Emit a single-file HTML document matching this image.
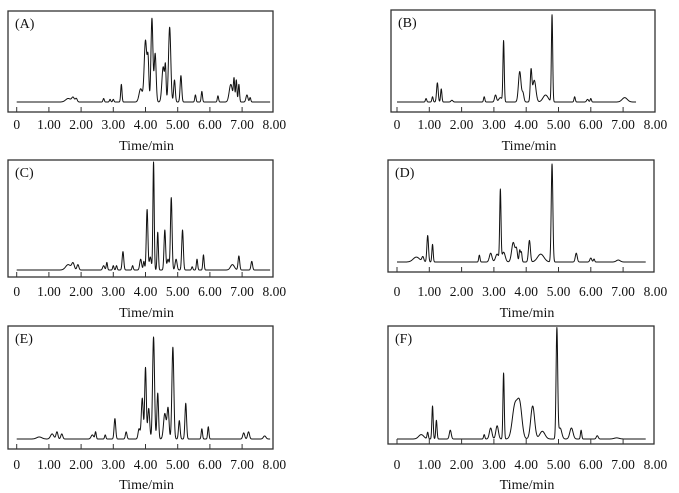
<!DOCTYPE html>
<html><head><meta charset="utf-8">
<style>
html,body{margin:0;padding:0;background:#fff;}
svg{display:block;font-family:"Liberation Serif",serif;}
</style></head>
<body>
<svg id="fig" width="679" height="493" viewBox="0 0 679 493"></svg>
<script>
// Peak data per panel: retention times (min), relative heights, widths (min)
const timesA=[1.6,1.75,1.85,2.7,2.9,3.0,3.25,3.85,4.0,4.08,4.2,4.3,4.55,4.62,4.75,4.9,5.1,5.55,5.75,6.25,6.65,6.75,6.82,6.9,7.15,7.25];
const heightsA=[0.04,0.05,0.04,0.04,0.03,0.03,0.2,0.15,0.7,0.45,0.95,0.55,0.4,0.35,0.85,0.25,0.3,0.08,0.12,0.07,0.2,0.25,0.25,0.2,0.08,0.05];
const widthsA=[0.08,0.04,0.03,0.02,0.02,0.02,0.02,0.05,0.04,0.025,0.03,0.03,0.04,0.02,0.035,0.025,0.025,0.02,0.02,0.02,0.05,0.02,0.02,0.02,0.03,0.02];
const timesB=[0.9,1.1,1.25,1.37,1.7,2.7,3.05,3.2,3.3,3.8,3.9,4.15,4.25,4.6,4.8,5.5,5.9,6.0,7.05];
const heightsB=[0.04,0.06,0.22,0.15,0.02,0.06,0.08,0.05,0.7,0.35,0.1,0.35,0.25,0.08,1.0,0.06,0.03,0.04,0.05];
const widthsB=[0.02,0.02,0.025,0.02,0.03,0.02,0.03,0.05,0.02,0.04,0.03,0.025,0.05,0.08,0.02,0.02,0.03,0.02,0.08];
const timesC=[1.6,1.75,1.9,2.7,2.8,3.0,3.1,3.3,3.6,3.85,3.95,4.05,4.15,4.25,4.38,4.6,4.7,4.8,4.95,5.15,5.45,5.6,5.8,6.7,6.9,7.3];
const heightsC=[0.05,0.06,0.05,0.04,0.07,0.04,0.04,0.17,0.04,0.1,0.08,0.56,0.12,1.0,0.35,0.37,0.1,0.67,0.1,0.37,0.03,0.1,0.14,0.05,0.13,0.08];
const widthsC=[0.08,0.04,0.03,0.03,0.02,0.02,0.02,0.025,0.02,0.03,0.02,0.025,0.03,0.02,0.02,0.025,0.03,0.025,0.03,0.025,0.02,0.02,0.02,0.06,0.025,0.025];
const timesD=[0.6,0.8,0.95,1.1,2.55,2.9,3.1,3.2,3.3,3.6,3.7,3.8,3.85,4.1,4.45,4.8,5.55,6.0,6.1,6.85];
const heightsD=[0.05,0.05,0.27,0.18,0.07,0.09,0.08,0.72,0.1,0.2,0.12,0.12,0.1,0.22,0.08,1.0,0.09,0.04,0.03,0.02];
const widthsD=[0.1,0.03,0.025,0.02,0.02,0.04,0.05,0.02,0.05,0.05,0.03,0.02,0.02,0.03,0.1,0.025,0.03,0.03,0.02,0.06];
const timesE=[0.7,1.1,1.25,1.4,2.35,2.45,2.75,3.05,3.4,3.8,3.9,4.0,4.1,4.25,4.38,4.6,4.7,4.85,5.05,5.25,5.75,5.95,7.05,7.2,7.7];
const heightsE=[0.02,0.05,0.07,0.05,0.04,0.07,0.04,0.2,0.07,0.1,0.4,0.7,0.3,1.0,0.45,0.25,0.3,0.9,0.18,0.35,0.1,0.12,0.06,0.07,0.03];
const widthsE=[0.08,0.05,0.03,0.03,0.04,0.02,0.02,0.025,0.025,0.03,0.03,0.025,0.03,0.03,0.025,0.04,0.03,0.03,0.025,0.025,0.02,0.02,0.03,0.03,0.04];
const timesF=[0.75,0.95,1.1,1.22,1.65,2.7,2.9,3.1,3.3,3.65,3.8,4.2,4.5,4.95,5.05,5.4,5.7,6.2,6.8];
const heightsF=[0.04,0.06,0.3,0.17,0.08,0.04,0.1,0.12,0.6,0.3,0.3,0.3,0.07,1.0,0.1,0.1,0.08,0.03,0.01];
const widthsF=[0.08,0.02,0.02,0.02,0.03,0.02,0.04,0.04,0.02,0.08,0.07,0.06,0.08,0.025,0.05,0.05,0.02,0.03,0.08];
const tickLabels=["0","1.00","2.00","3.00","4.00","5.00","6.00","7.00","8.00"];
const tickValues=[0,1,2,3,4,5,6,7,8];

const panels=[
 {id:"a",label:"(A)",t:timesA,h:heightsA,w:widthsA,end:7.87,box:[8,11,273,112],x0:16.7,px:32.2,base:102,scale:88,lab:124,title:145},
 {id:"b",label:"(B)",t:timesB,h:heightsB,w:widthsB,end:7.4,box:[391,10,655,112],x0:397,px:32.3,base:102,scale:87,lab:124,title:145},
 {id:"c",label:"(C)",t:timesC,h:heightsC,w:widthsC,end:7.87,box:[8,160,273,277],x0:16.7,px:32.2,base:270,scale:108,lab:291,title:312},
 {id:"d",label:"(D)",t:timesD,h:heightsD,w:widthsD,end:7.7,box:[388,160,654,272],x0:397,px:32.3,base:262,scale:98,lab:291,title:312},
 {id:"e",label:"(E)",t:timesE,h:heightsE,w:widthsE,end:7.87,box:[8,326,273,449],x0:16.7,px:32.2,base:439,scale:102,lab:464,title:484},
 {id:"f",label:"(F)",t:timesF,h:heightsF,w:widthsF,end:7.7,box:[388,326,654,444],x0:397,px:32.3,base:439,scale:110,lab:464,title:484}
];
const NS="http://www.w3.org/2000/svg";
const svg=document.getElementById("fig");
function mk(tag,attrs,parent){const e=document.createElementNS(NS,tag);for(const k in attrs)e.setAttribute(k,attrs[k]);(parent||svg).appendChild(e);return e;}
panels.forEach(p=>{
  const g=mk("g",{});
  
  
  const [x1,y1,x2,y2]=p.box;
  const r=mk("rect",{x:x1,y:y1,width:x2-x1,height:y2-y1,fill:"none",stroke:"#333",'stroke-width':1.3},g);
  
  
  const xs=t=>p.x0+t*p.px;
  const ys=v=>p.base-v*p.scale;
  let d="";
  for(let t=0;t<=p.end+1e-9;t+=0.005){
    let v=0;
    for(let i=0;i<p.t.length;i++){const z=(t-p.t[i])/p.w[i];v+=p.h[i]*Math.exp(-0.5*z*z);}
    d+=(d?"L":"M")+xs(t).toFixed(2)+","+ys(v).toFixed(2);
  }
  const path=mk("path",{d:d,fill:"none",stroke:"#111",'stroke-width':1,'stroke-linejoin':"round"},g);
  
  
  tickValues.forEach((tv,i)=>{
    const x=xs(tv);
    if(x<=x2){
      const tk=mk("line",{x1:x,y1:y2,x2:x,y2:y2-5,stroke:"#333",'stroke-width':1},g);
      
      
    }
    const tl=mk("text",{x:x,y:p.lab+5,'font-size':13.5,'text-anchor':"middle",fill:"#111"},g);
    tl.textContent=tickLabels[i];
    
    
  });
  const tt=mk("text",{x:(x1+x2)/2+6,y:p.title+5,'font-size':14,'text-anchor':"middle",fill:"#111"},g);
  tt.textContent="Time/min";
  
  
  const pl=mk("text",{x:x1+7,y:y1+17,'font-size':14,fill:"#111"},g);
  pl.textContent=p.label;
  
  
});
</script>
</body></html>
